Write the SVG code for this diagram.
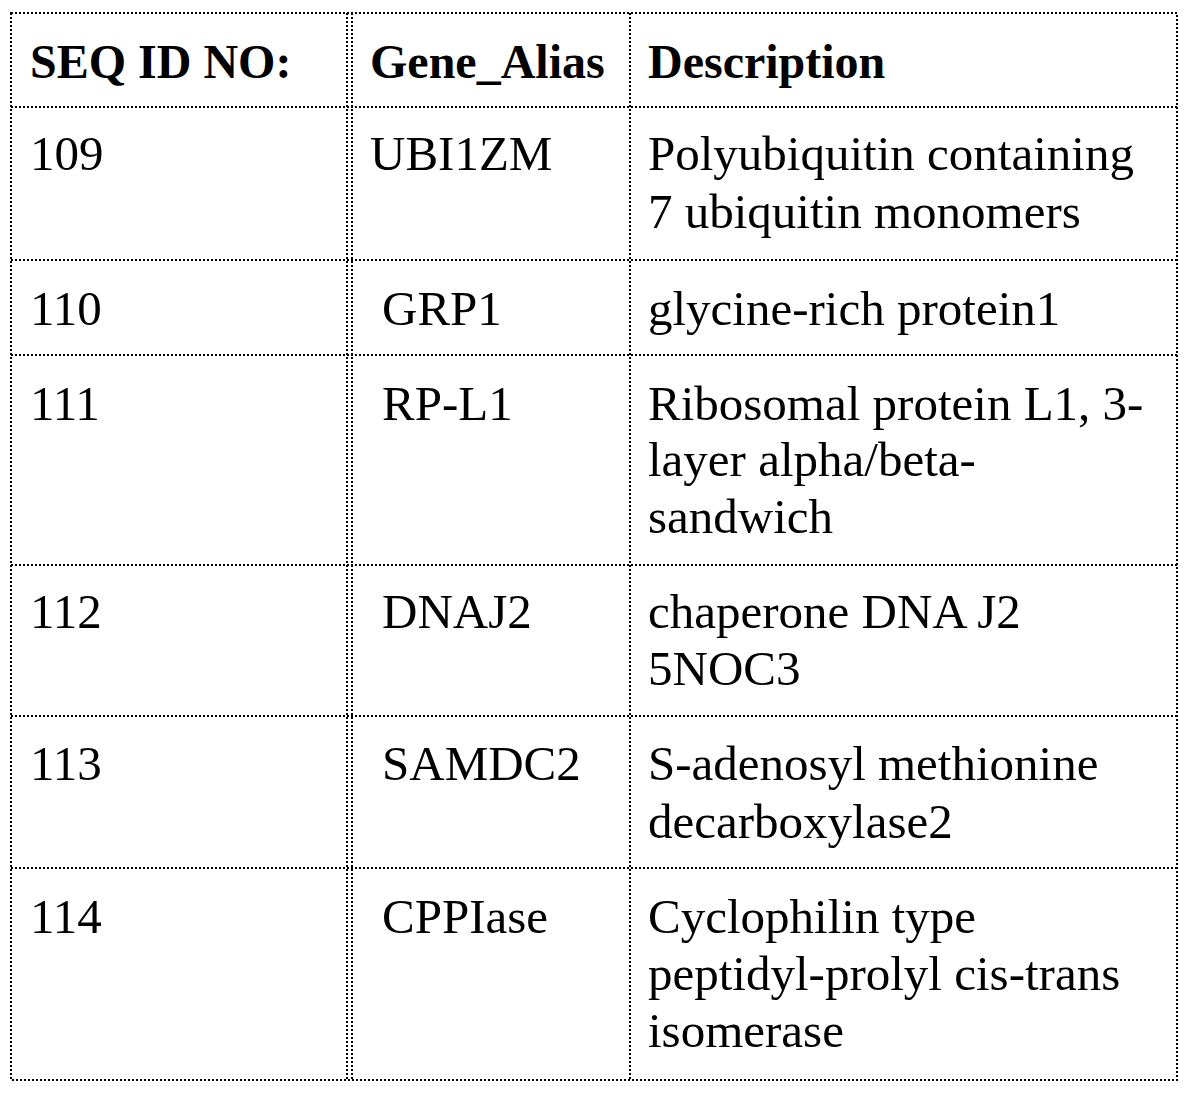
<svg xmlns="http://www.w3.org/2000/svg" width="1190" height="1094" viewBox="0 0 1190 1094">
<style>
.l{stroke:#000;stroke-width:2;stroke-dasharray:2 2;fill:none}
text{font-family:"Liberation Serif","Times New Roman",serif;font-size:49px;fill:#000}
.h{font-weight:bold;font-size:48px}
</style>
<rect width="1190" height="1094" fill="#fff"/>
<g id="grid">
<rect class="l" x="11" y="13" width="1166" height="1067"/>
<line class="l" x1="352" y1="13" x2="352" y2="1080"/>
<line class="l" x1="347" y1="13" x2="347" y2="1080"/>
<line class="l" x1="630" y1="13" x2="630" y2="1080"/>
<line class="l" x1="11" y1="107" x2="1177" y2="107"/>
<line class="l" x1="11" y1="260" x2="1177" y2="260"/>
<line class="l" x1="11" y1="355" x2="1177" y2="355"/>
<line class="l" x1="11" y1="565" x2="1177" y2="565"/>
<line class="l" x1="11" y1="716" x2="1177" y2="716"/>
<line class="l" x1="11" y1="868" x2="1177" y2="868"/>
</g>
<g id="header">
<text class="h" x="30" y="78">SEQ ID NO:</text>
<text class="h" x="370" y="78">Gene_Alias</text>
<text class="h" x="648" y="78">Description</text>
</g>
<g id="r109"><text x="30" y="170">109</text><text x="370" y="170">UBI1ZM</text><text x="648" y="170">Polyubiquitin containing</text><text x="648" y="228">7 ubiquitin monomers</text></g>
<g id="r110"><text x="30" y="325">110</text><text x="382" y="325">GRP1</text><text x="648" y="325">glycine-rich protein1</text></g>
<g id="r111"><text x="30" y="420">111</text><text x="382" y="420">RP-L1</text><text x="648" y="420">Ribosomal protein L1, 3-</text><text x="648" y="476">layer alpha/beta-</text><text x="648" y="533">sandwich</text></g>
<g id="r112"><text x="30" y="628">112</text><text x="382" y="628">DNAJ2</text><text x="648" y="628">chaperone DNA J2</text><text x="648" y="685">5NOC3</text></g>
<g id="r113"><text x="30" y="780">113</text><text x="382" y="780">SAMDC2</text><text x="648" y="780">S-adenosyl methionine</text><text x="648" y="838">decarboxylase2</text></g>
<g id="r114"><text x="30" y="933">114</text><text x="382" y="933">CPPIase</text><text x="648" y="933">Cyclophilin type</text><text x="648" y="990">peptidyl-prolyl cis-trans</text><text x="648" y="1047">isomerase</text></g>
</svg>
